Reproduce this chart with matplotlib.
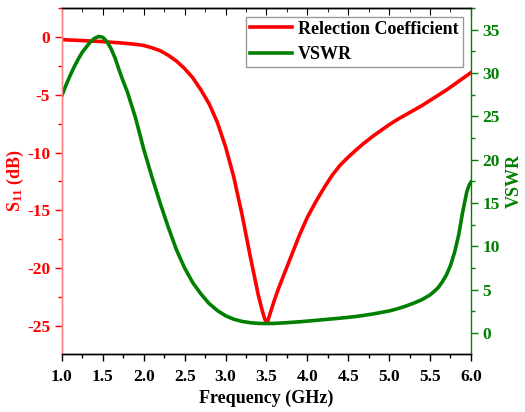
import matplotlib
matplotlib.use("Agg")
import matplotlib.pyplot as plt
from matplotlib.ticker import MultipleLocator, FormatStrFormatter

# --- data ---
freq_s11 = [1.0, 1.25, 1.5, 1.75, 1.9, 2.0, 2.1, 2.2, 2.3, 2.4, 2.5, 2.6, 2.7, 2.8,
            2.9, 3.0, 3.1, 3.2, 3.3, 3.4, 3.45, 3.48, 3.51, 3.55, 3.6, 3.65, 3.7,
            3.8, 3.9, 4.0, 4.1, 4.2, 4.3, 4.4, 4.5, 4.6, 4.7, 4.8, 4.9, 5.0, 5.1,
            5.2, 5.3, 5.4, 5.5, 5.6, 5.7, 5.8, 5.9, 6.0]
s11_db = [-0.25, -0.33, -0.42, -0.55, -0.65, -0.75, -0.95, -1.2, -1.6, -2.1, -2.75,
          -3.55, -4.6, -5.8, -7.4, -9.5, -12.1, -15.3, -18.9, -22.3, -23.7, -24.4,
          -24.7, -23.8, -22.7, -21.7, -20.8, -19.0, -17.2, -15.6, -14.3, -13.1,
          -12.0, -11.1, -10.4, -9.75, -9.15, -8.6, -8.1, -7.6, -7.15, -6.75, -6.35,
          -5.95, -5.5, -5.05, -4.6, -4.1, -3.6, -3.1]

freq_vswr = [1.0, 1.05, 1.1, 1.15, 1.2, 1.25, 1.3, 1.35, 1.4, 1.45, 1.5, 1.55, 1.6,
             1.65, 1.7, 1.75, 1.8, 1.9, 2.0, 2.1, 2.2, 2.3, 2.4, 2.5, 2.6, 2.7, 2.8,
             2.9, 3.0, 3.1, 3.2, 3.3, 3.4, 3.5, 3.6, 3.75, 3.9, 4.0, 4.2, 4.4, 4.6,
             4.8, 5.0, 5.1, 5.2, 5.3, 5.4, 5.5, 5.55, 5.6, 5.65, 5.7, 5.75, 5.8,
             5.85, 5.9, 5.95, 5.98, 6.0]
vswr = [27.4, 28.6, 29.7, 30.7, 31.6, 32.4, 33.0, 33.6, 34.0, 34.2, 34.1, 33.6, 32.8,
        31.7, 30.3, 29.0, 27.8, 24.8, 21.2, 18.0, 15.0, 12.2, 9.6, 7.5, 5.8, 4.5,
        3.4, 2.6, 2.0, 1.6, 1.35, 1.2, 1.12, 1.1, 1.12, 1.2, 1.3, 1.38, 1.55, 1.72,
        1.92, 2.2, 2.55, 2.8, 3.1, 3.45, 3.85, 4.4, 4.8, 5.25, 5.9, 6.7, 7.8, 9.3,
        11.3, 14.0, 16.3, 17.1, 17.4]

plt.rcParams["font.family"] = "Liberation Serif"
plt.rcParams["font.weight"] = "bold"
plt.rcParams["axes.unicode_minus"] = False
plt.rcParams["mathtext.fontset"] = "custom"
plt.rcParams["mathtext.rm"] = "Liberation Serif:bold"
plt.rcParams["mathtext.it"] = "Liberation Serif:bold"
plt.rcParams["mathtext.bf"] = "Liberation Serif:bold"

red = "#ff0000"
green = "#008000"

fig = plt.figure(figsize=(5.25, 4.12), dpi=100)
ax1 = fig.add_axes([0.118, 0.141, 0.779, 0.840])
ax2 = ax1.twinx()

l1, = ax1.plot(freq_s11, s11_db, color=red, lw=2.6, label="Relection Coefficient")
l2, = ax2.plot(freq_vswr, vswr, color=green, lw=2.6, label="VSWR")

ax1.set_xlim(1.0, 6.0)
ax1.set_ylim(-27.4, 2.5)
ax2.set_ylim(-2.4, 37.5)

ax1.xaxis.set_major_locator(MultipleLocator(0.5))
ax1.xaxis.set_minor_locator(MultipleLocator(0.25))
ax1.yaxis.set_major_locator(MultipleLocator(5))
ax1.yaxis.set_minor_locator(MultipleLocator(2.5))
ax2.yaxis.set_major_locator(MultipleLocator(5))
ax2.yaxis.set_minor_locator(MultipleLocator(2.5))
ax1.xaxis.set_major_formatter(FormatStrFormatter("%.1f"))

ax1.tick_params(axis="x", which="both", direction="out", top=False, labelsize=12.5, pad=6)
ax1.tick_params(axis="x", which="major", length=5, width=1)
ax1.tick_params(axis="x", which="minor", length=3, width=1)
ax1.tick_params(axis="y", which="both", direction="out", colors=red, labelsize=12.5)
ax1.tick_params(axis="y", which="major", length=5, width=1)
ax1.tick_params(axis="y", which="minor", length=3, width=1)
ax2.tick_params(axis="y", which="both", direction="out", colors=green, labelsize=12.5)
ax2.tick_params(axis="y", which="major", length=5, width=1)
ax2.tick_params(axis="y", which="minor", length=3, width=1)

# inward ticks on the top edge
sec = ax1.secondary_xaxis("top")
sec.xaxis.set_major_locator(MultipleLocator(0.5))
sec.xaxis.set_minor_locator(MultipleLocator(0.25))
sec.tick_params(which="both", direction="in", labeltop=False)
sec.tick_params(which="major", length=5)
sec.tick_params(which="minor", length=3)

ax2.spines["left"].set_color("#ff8080")
ax2.spines["right"].set_color(green)
ax1.spines["right"].set_visible(False)
ax1.spines["left"].set_color("#ff8080")
for ax in (ax1, ax2):
    for s in ax.spines.values():
        s.set_linewidth(1.0)

ax1.set_xlabel("Frequency (GHz)", fontsize=13, fontweight="bold", labelpad=3)
ax1.set_ylabel("$S_{11}$ (dB)", fontsize=13, fontweight="bold", color=red, labelpad=1)
ax2.set_ylabel("VSWR", fontsize=13, fontweight="bold", color=green, labelpad=4)

leg = ax2.legend(handles=[l1, l2], loc="upper right", bbox_to_anchor=(0.98, 0.974),
                 borderaxespad=0, fancybox=False, edgecolor="#999999",
                 framealpha=1, handlelength=2.3, prop={"size": 13, "weight": "bold"},
                 borderpad=0.22, labelspacing=0.45, handletextpad=0.35)

fig.savefig("out.png", dpi=100)
